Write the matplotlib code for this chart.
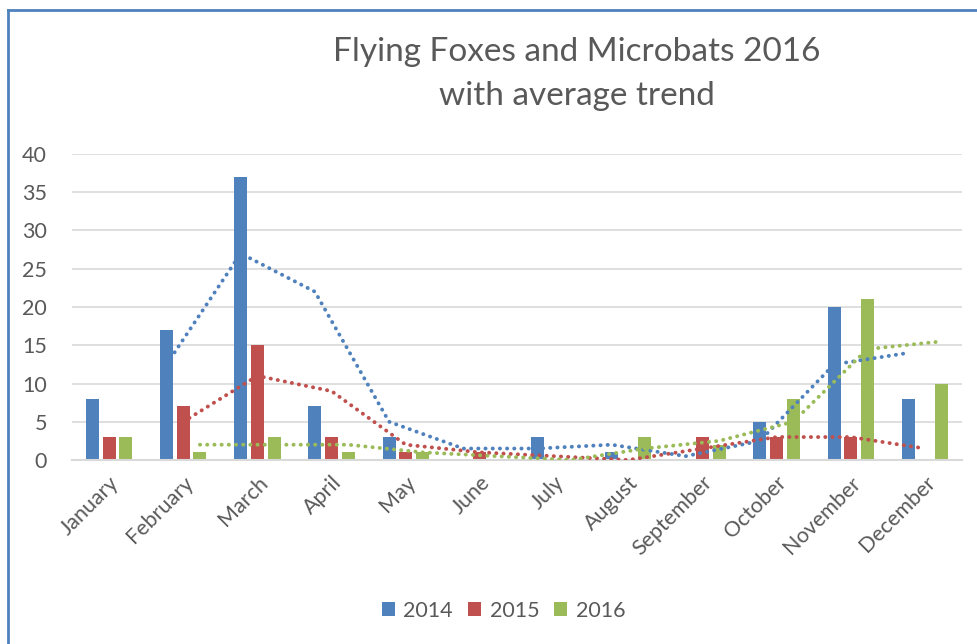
import numpy as np
import matplotlib
matplotlib.use("Agg")
import matplotlib.pyplot as plt
from matplotlib.patches import Patch

months = ["January", "February", "March", "April", "May", "June", "July",
          "August", "September", "October", "November", "December"]
years = ["2014", "2015", "2016"]
counts_2014 = [8, 17, 37, 7, 3, 0, 3, 1, 0, 5, 20, 8]
counts_2015 = [3, 7, 15, 3, 1, 1, 0, 0, 3, 3, 3, 0]
counts_2016 = [3, 1, 3, 1, 1, 0, 0, 3, 2, 8, 21, 10]
colors = ["#4F81BD", "#C0504D", "#9BBB59"]
text_col = "#595959"

plt.rcParams['font.family'] = ['Lato', 'DejaVu Sans']

fig = plt.figure(figsize=(9.78, 6.44), dpi=100)
ax = fig.add_axes([72 / 978, 184 / 644, 890 / 978, 306 / 644])

x = np.arange(len(months))
width = 0.175
offsets = [-0.225, 0, 0.225]
series = [counts_2014, counts_2015, counts_2016]

for vals, off, col in zip(series, offsets, colors):
    ax.bar(x + off, vals, width, color=col, zorder=2)

# 2-period moving average trend lines (Excel style)
for vals, off, col in zip(series, offsets, colors):
    v = np.array(vals, dtype=float)
    ma = (v[1:] + v[:-1]) / 2
    ax.plot(x[1:] + off, ma, color=col, linewidth=2.8,
            linestyle=(0, (0.05, 1.8)), dash_capstyle='round', zorder=3)

ax.set_xlim(-0.5, len(months) - 0.5)
ax.set_ylim(0, 40)
ax.set_yticks(range(0, 41, 5))
ax.yaxis.grid(True, color="#D9D9D9", linewidth=1.2)
ax.set_axisbelow(True)
for s in ["top", "right", "left"]:
    ax.spines[s].set_visible(False)
ax.spines["bottom"].set_color("#D9D9D9")
ax.spines["bottom"].set_linewidth(1.5)
ax.tick_params(axis='both', length=0, colors=text_col, labelsize=15.5)
ax.tick_params(axis='y', pad=18)
ax.set_xticks(x)
ax.set_xticklabels(months, rotation=45, ha='right', rotation_mode='anchor')
ax.tick_params(axis='x', pad=9)

fig.text(0.590, 0.885, "Flying Foxes and Microbats 2016\nwith average trend",
         ha='center', va='center', fontsize=24, color=text_col, linespacing=1.55)

handles = [Patch(facecolor=c) for c in colors]
fig.legend(handles, years, loc='center', bbox_to_anchor=(0.515, 0.052), ncol=3,
           frameon=False, fontsize=15.5, labelcolor=text_col, handlelength=0.6,
           handleheight=0.6, handletextpad=0.4, columnspacing=0.7)

# chart area border (top and left visible in the crop)
fig.add_artist(plt.Line2D([8 / 978, 8 / 978], [0, 1 - 10 / 644], color="#4F81BD",
                          linewidth=2, transform=fig.transFigure))
fig.add_artist(plt.Line2D([8 / 978, 1], [1 - 10 / 644, 1 - 10 / 644], color="#4F81BD",
                          linewidth=2, transform=fig.transFigure))

fig.savefig("out.png", dpi=100)
